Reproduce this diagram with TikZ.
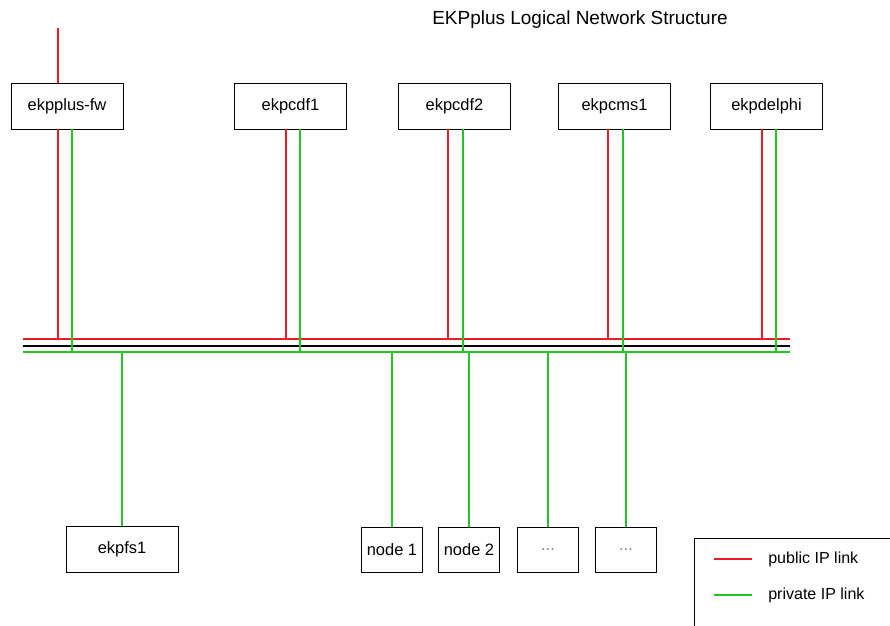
\documentclass[tikz,border=0pt]{standalone}
\usepackage{fontspec}
\setmainfont{Liberation Sans}
\usetikzlibrary{calc}
\definecolor{pubred}{RGB}{232,28,36}
\definecolor{privgreen}{RGB}{34,196,34}

\begin{document}
\begin{tikzpicture}[x=0.025cm, y=-0.025cm]

\pgfmathsetlengthmacro{\hostWidth}{2.8cm}
\pgfmathsetlengthmacro{\hostHeight}{1.15cm}
\pgfmathsetlengthmacro{\nodeWidth}{1.525cm}
\pgfmathsetlengthmacro{\nodeHeight}{1.125cm}
\tikzset{
  host/.style={draw, line width=0.6pt, minimum width=\hostWidth, minimum height=\hostHeight, inner sep=0pt, font=\fontsize{11.7}{14}\selectfont},
  cluster/.style={host, minimum width=\nodeWidth, minimum height=\nodeHeight},
  more/.style={cluster, text=gray},
  pub/.style={draw=pubred, line width=1.4pt},
  priv/.style={draw=privgreen, line width=1.4pt},
  bus/.style={draw=black, line width=1.4pt},
  key/.style={anchor=west, inner sep=0pt, font=\fontsize{11.4}{14}\selectfont},
}

\useasboundingbox (0,0) rectangle (890,626);
\clip (0,0) rectangle (890,626);

\node[font=\fontsize{13.5}{16}\selectfont, name=title] at (580,20) {EKPplus Logical Network Structure};

% public hosts
\node[host, name=fw] at (67,106) {ekpplus-fw};
\node[host, name=cdf1] at (290.5,106) {ekpcdf1};
\node[host, name=cdf2] at (454.5,106) {ekpcdf2};
\node[host, name=cms1] at (614.5,106) {ekpcms1};
\node[host, name=delphi] at (766.5,106) {ekpdelphi};

% private hosts
\node[host, name=fs1] at (122,549.5) {ekpfs1};
\node[cluster, name=node1] at (392,549.5) {node 1};
\node[cluster, name=node2] at (469,549.5) {node 2};
\node[more, name=more1] at (548,549.5) {...};
\node[more, name=more2] at (626,549.5) {...};

% backbone
\coordinate (redW) at (23,339);
\coordinate (redE) at (790,339);
\coordinate (busW) at (23,346);
\coordinate (busE) at (790,346);
\coordinate (greenW) at (23,352);
\coordinate (greenE) at (790,352);
\draw[pub] (redW) -- (redE);
\draw[bus] (busW) -- (busE);
\draw[priv] (greenW) -- (greenE);

% uplink
\coordinate (wan) at (58,28);
\draw[pub] (wan) -- (wan |- fw.north);

\foreach \n/\r/\g in {fw/58/72, cdf1/286/300, cdf2/448/463, cms1/608/623, delphi/762/776} {
  \draw[pub] (\n.south -| \r,0) -- (\r,0 |- redW);
  \draw[priv] (\n.south -| \g,0) -- (\g,0 |- greenW);
}

\foreach \n in {fs1, node1, node2, more1, more2}
  \draw[priv] (\n.north) -- (\n.north |- greenW);

% legend
\node[draw, line width=0.6pt, anchor=north west, minimum width=5.5cm, minimum height=3cm, inner sep=0pt, name=legend] at (694,538) {};
\coordinate (pubkey) at ($(legend.north west)+(20,21)$);
\coordinate (privkey) at ($(legend.north west)+(20,57)$);
\draw[draw=pubred, line width=1pt] (pubkey) -- ++(38,0);
\draw[draw=privgreen, line width=1pt] (privkey) -- ++(38,0);
\node[key, name=pubtext] at ($(pubkey)+(54,0)$) {public IP link};
\node[key, name=privtext] at ($(privkey)+(54,0)$) {private IP link};

\end{tikzpicture}
\end{document}
